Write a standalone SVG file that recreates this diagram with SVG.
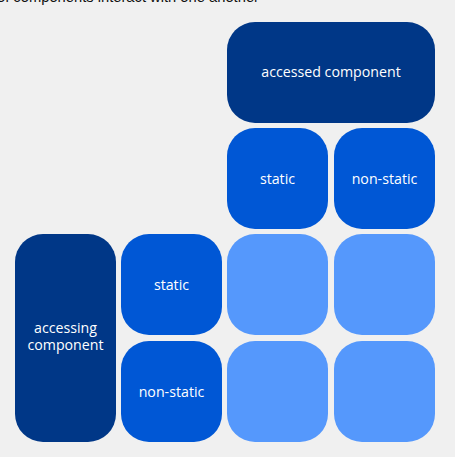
<svg xmlns="http://www.w3.org/2000/svg" width="455" height="457" viewBox="0 0 455 457">
<style>
.dark{fill:#003787}
.mid{fill:#0057d5}
.light{fill:#5598fc}
.lbl{font-family:"Open Sans","Liberation Sans",sans-serif;font-size:14.2px;fill:#ffffff;text-anchor:middle}
.cap{font-family:"Liberation Sans",Arial,sans-serif;font-size:15px;fill:#111111}
</style>
<rect width="455" height="457" fill="#f0f0f0"/>
<text class="cap" x="-3" y="2" textLength="262" lengthAdjust="spacingAndGlyphs">of components interact with one another</text>
<g id="accessed-component">
<rect class="dark" x="227" y="22" width="208" height="101" rx="28" ry="28"/>
<text class="lbl" x="331" y="77">accessed component</text>
</g>
<g id="accessed-static">
<rect class="mid" x="227" y="128" width="101" height="101" rx="28" ry="28"/>
<text class="lbl" x="277.5" y="184">static</text>
</g>
<g id="accessed-non-static">
<rect class="mid" x="334" y="128" width="101" height="101" rx="28" ry="28"/>
<text class="lbl" x="384.5" y="184">non-static</text>
</g>
<g id="accessing-component">
<rect class="dark" x="15" y="234" width="101" height="208" rx="28" ry="28"/>
<text class="lbl" x="65.5" y="333">accessing</text>
<text class="lbl" x="65.5" y="350">component</text>
</g>
<g id="accessing-static">
<rect class="mid" x="121" y="234" width="101" height="101" rx="28" ry="28"/>
<text class="lbl" x="171.5" y="290">static</text>
</g>
<g id="accessing-non-static">
<rect class="mid" x="121" y="341" width="101" height="101" rx="28" ry="28"/>
<text class="lbl" x="171.5" y="397">non-static</text>
</g>
<g id="cell-static-static"><rect class="light" x="227" y="234" width="101" height="101" rx="28" ry="28"/></g>
<g id="cell-static-nonstatic"><rect class="light" x="334" y="234" width="101" height="101" rx="28" ry="28"/></g>
<g id="cell-nonstatic-static"><rect class="light" x="227" y="341" width="101" height="101" rx="28" ry="28"/></g>
<g id="cell-nonstatic-nonstatic"><rect class="light" x="334" y="341" width="101" height="101" rx="28" ry="28"/></g>
<g id="connectors"/>
</svg>
